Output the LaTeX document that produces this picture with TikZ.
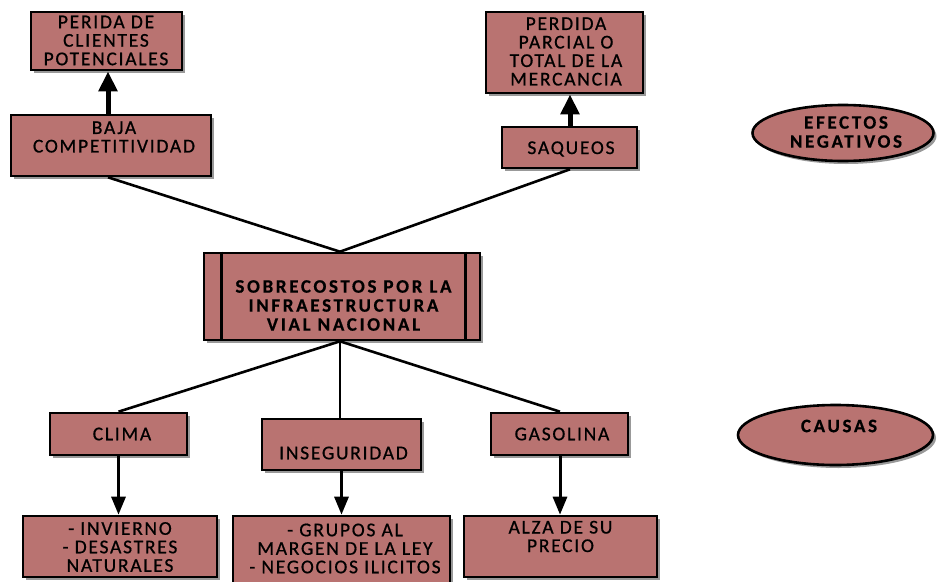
\documentclass[tikz,border=0pt]{standalone}
\usepackage{fontspec}
\setmainfont{Carlito}
\usetikzlibrary{shapes.geometric,shadows,arrows.meta,calc}
\definecolor{boxfill}{RGB}{185,115,113}
\begin{document}
\begin{tikzpicture}[x=1pt,y=-1pt,
  shade box/.style={fill=boxfill,draw=black,line width=2.6pt,
    drop shadow={shadow xshift=3pt,shadow yshift=-3pt,fill=black,opacity=0.4}},
  box/.style={shade box,rectangle,inner sep=0pt},
  oval/.style={shade box,ellipse,inner sep=0pt},
  txt/.style={align=center,inner sep=0pt,
    font=\fontsize{19.5}{18.5}\selectfont\addfontfeature{LetterSpace=9,FakeBold=0.7}},
  btxt/.style={align=center,inner sep=0pt,
    font=\fontsize{19}{19}\selectfont\bfseries\addfontfeature{LetterSpace=14,FakeBold=0.5}},
  link/.style={line width=2.6pt},
  bigarrow/.style={line width=5pt,-{Triangle[width=18pt,length=20pt]}},
  smallarrow/.style={line width=3pt,-{Triangle[width=14pt,length=18pt]}}
]
\useasboundingbox (0,0) rectangle (937,581);

% effects (top row)
\node[box,minimum width=151pt,minimum height=58pt] (perdcli) at (106.5,41) {};
\node[txt] (perdcli-t) at (106,40.5) {PERIDA DE\\CLIENTES\\POTENCIALES};
\node[box,minimum width=200pt,minimum height=61pt] (baja) at (111,145.5) {};
\node[txt] (baja-t) at (114,137) {BAJA\\COMPETITIVIDAD};
\node[box,minimum width=157pt,minimum height=81pt] (perdmer) at (564.5,52.5) {};
\node[txt] (perdmer-t) at (566,51.5) {PERDIDA\\PARCIAL O\\TOTAL DE LA\\MERCANCIA};
\node[box,minimum width=135pt,minimum height=41pt] (saq) at (569.5,147.5) {};
\node[txt] (saq-t) at (571,149) {SAQUEOS};

% central problem
\node[box,minimum width=276pt,minimum height=87pt] (centro) at (342,296.5) {};
\draw[line width=2.6pt] ($(centro.north west)+(19,0)$) -- ($(centro.south west)+(19,0)$)
  ($(centro.north east)+(-16,0)$) -- ($(centro.south east)+(-16,0)$);
\node[btxt] (centro-t) at (343.5,305.5) {SOBRECOSTOS POR LA\\INFRAESTRUCTURA\\VIAL NACIONAL};

% causes
\node[box,minimum width=137pt,minimum height=42pt] (clima) at (118.5,434) {};
\node[txt] (clima-t) at (122,434) {CLIMA};
\node[box,minimum width=159pt,minimum height=51pt] (inseg) at (341.5,444.5) {};
\node[txt] (inseg-t) at (343.5,453) {INSEGURIDAD};
\node[box,minimum width=137pt,minimum height=42pt] (gas) at (559.5,434) {};
\node[txt] (gas-t) at (562,434) {GASOLINA};

% consequences of the causes
\node[box,minimum width=194pt,minimum height=61pt] (inv) at (120,546.5) {};
\node[txt] (inv-t) at (120,547) {- INVIERNO\\- DESASTRES\\NATURALES};
\node[box,minimum width=217pt,minimum height=70pt] (grupos) at (341.5,551) {};
\node[txt] (grupos-t) at (345,548.5) {- GRUPOS AL\\MARGEN DE LA LEY\\- NEGOCIOS ILICITOS};
\node[box,minimum width=193pt,minimum height=61pt] (alza) at (560.5,546.5) {};
\node[txt] (alza-t) at (560.5,536.5) {ALZA DE SU\\PRECIO};

% legend ovals
\node[oval,minimum width=181pt,minimum height=56pt] (efectos) at (843,133) {};
\node[btxt] (efectos-t) at (846,132) {EFECTOS\\NEGATIVOS};
\node[oval,minimum width=195pt,minimum height=60pt] (causas) at (835.5,435) {};
\node[btxt] (causas-t) at (839,426) {CAUSAS};

% connectors
\coordinate (hub-top) at ($(centro.north)+(-2,0)$);
\coordinate (hub-bot) at ($(centro.south)+(-2,0)$);
\draw[link] ($(baja.south)+(-3,0)$) -- (hub-top);
\draw[link] ($(saq.south)+(0.5,0)$) -- (hub-top);
\draw[link] (hub-bot) -- (clima.north);
\draw[link] (hub-bot) -- (inseg.north -| hub-bot);
\draw[link] (hub-bot) -- ($(gas.north)+(0.5,0)$);

\draw[bigarrow] ($(baja.north)+(-3,0)$) -- ($(perdcli.south)+(1.5,0)$);
\draw[bigarrow] ($(saq.north)+(0.5,0)$) -- ($(perdmer.south)+(5.5,0)$);
\draw[smallarrow] (clima.south) -- (clima.south |- inv.north);
\draw[smallarrow] (inseg.south) -- (inseg.south |- grupos.north);
\draw[smallarrow] ($(gas.south)+(0.5,0)$) -- ($(gas.south |- alza.north)+(0.5,0)$);
\end{tikzpicture}
\end{document}
